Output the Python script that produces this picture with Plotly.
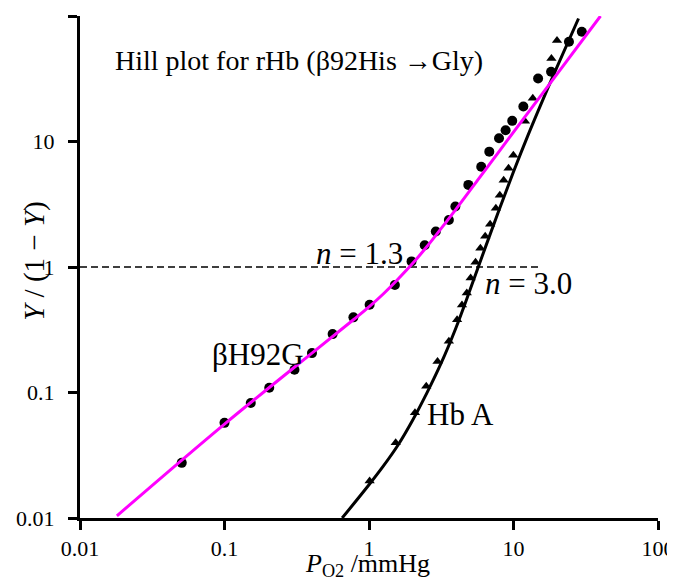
import plotly.graph_objects as go

# ---- data ----
# beta H92G (rHb beta92His->Gly) measured points (circles)
h92g_po2 = [0.0506, 0.100, 0.152, 0.204, 0.305, 0.403, 0.56, 0.78, 1.01, 1.51, 1.97, 2.43,
            2.90, 3.57, 3.96, 4.87, 5.98, 6.8, 7.94, 8.82, 9.8, 11.7, 14.8, 18.2, 24.2, 29.7]
h92g_ratio = [0.0275, 0.0573, 0.0826, 0.109, 0.152, 0.206, 0.292, 0.397, 0.50, 0.718, 1.108, 1.49,
              1.92, 2.37, 3.03, 4.51, 6.3, 8.3, 10.6, 12.3, 14.6, 19.0, 31.8, 36.0, 62.3, 74.8]

# Hb A measured points (triangles)
hba_po2 = [1.01, 1.53, 2.08, 2.49, 2.98, 3.57, 4.07, 4.40, 4.75, 5.05, 5.46, 5.90,
           6.37, 6.89, 7.55, 8.04, 8.55, 9.24, 9.98, 12.0, 13.6, 18.3, 20.0]
hba_ratio = [0.0197, 0.0397, 0.0689, 0.112, 0.177, 0.256, 0.380, 0.498, 0.620, 0.816, 1.09, 1.41,
             1.76, 2.19, 2.94, 3.73, 4.91, 6.12, 7.77, 14.5, 22.1, 45.9, 63.8]

# fitted curves
h92g_fit_x = [0.018, 0.1, 0.403, 0.78, 1.0, 1.26, 1.585, 2.0, 2.51, 3.16, 3.98, 6.31, 10.0, 15.85, 40.0]
h92g_fit_y = [0.0104, 0.056, 0.206, 0.38, 0.481, 0.612, 0.798, 1.064, 1.45, 2.03, 2.87, 5.83, 11.9, 24.1, 100]
hba_fit_x = [0.652, 1.0, 1.259, 1.585, 1.995, 2.512, 3.162, 3.981, 5.012, 6.31, 7.943, 10.0,
             12.59, 15.85, 19.95, 28.18]
hba_fit_y = [0.0100, 0.0184, 0.026, 0.038, 0.0596, 0.0989, 0.172, 0.324, 0.661, 1.38, 2.85, 5.75,
             11.2, 21.1, 38.9, 95.5]

# half-saturation reference line
half_x = [0.01, 15.6]
half_y = [1, 1]

tick_vals = [0.01, 0.1, 1, 10, 100]
tick_text = ["0.01", "0.1", "1", "10", "100"]

FONT = "Liberation Serif, Times New Roman, serif"

fig = go.Figure()

fig.add_trace(go.Scatter(x=half_x, y=half_y, mode="lines",
                         line=dict(color="black", width=1.5, dash="7px,4px"),
                         showlegend=False, hoverinfo="skip"))
fig.add_trace(go.Scatter(x=h92g_po2, y=h92g_ratio, mode="markers",
                         marker=dict(symbol="circle", size=10, color="black"),
                         showlegend=False))
fig.add_trace(go.Scatter(x=hba_po2, y=hba_ratio, mode="markers",
                         marker=dict(symbol="triangle-up", size=9, color="black"),
                         showlegend=False))
fig.add_trace(go.Scatter(x=hba_fit_x, y=hba_fit_y, mode="lines",
                         line=dict(color="black", width=3, shape="spline", smoothing=1.0),
                         showlegend=False))
fig.add_trace(go.Scatter(x=h92g_fit_x, y=h92g_fit_y, mode="lines",
                         line=dict(color="#FF00FF", width=3, shape="spline", smoothing=1.0),
                         showlegend=False))

axis_common = dict(
    type="log", range=[-2, 2], tickvals=tick_vals, ticktext=tick_text,
    ticks="outside", ticklen=9, tickwidth=2.5, tickcolor="black",
    showline=True, linecolor="black", linewidth=3, showgrid=False, zeroline=False,
    tickfont=dict(family=FONT, size=22, color="black"), mirror=False,
)

fig.update_layout(
    width=675, height=582,
    margin=dict(l=62, r=18, t=8, b=72),
    paper_bgcolor="white", plot_bgcolor="white",
    xaxis=dict(**axis_common),
    yaxis=dict(**axis_common, ticklabelstandoff=9),
    font=dict(family=FONT, color="black"),
    showlegend=False,
)

ann = [
    dict(text="Hill plot for rHb (β92His →Gly)", x=-1.771, y=1.646, xref="x", yref="y",
         xanchor="left", yanchor="middle", showarrow=False, font=dict(size=28)),
    dict(text="<i>n</i> = 1.3", x=-0.063, y=0.111, xref="x", yref="y",
         xanchor="center", yanchor="middle", showarrow=False, font=dict(size=31)),
    dict(text="<i>n</i> = 3.0", x=1.104, y=-0.128, xref="x", yref="y",
         xanchor="center", yanchor="middle", showarrow=False, font=dict(size=31)),
    dict(text="βH92G", x=-0.766, y=-0.699, xref="x", yref="y",
         xanchor="center", yanchor="middle", showarrow=False, font=dict(size=31)),
    dict(text="Hb A", x=0.631, y=-1.178, xref="x", yref="y",
         xanchor="center", yanchor="middle", showarrow=False, font=dict(size=31)),
    dict(text="<i>P</i><sub>O2</sub> /mmHg", x=0.497, y=-0.129, xref="paper", yref="paper",
         xanchor="center", yanchor="bottom", showarrow=False, font=dict(size=26)),
    dict(text="<i>Y</i> / (1 − <i>Y</i>)", x=-0.079, y=0.513, xref="paper", yref="paper",
         xanchor="center", yanchor="middle", showarrow=False, textangle=-90, font=dict(size=29)),
]
fig.update_layout(annotations=ann)

fig.write_html("out.html")
